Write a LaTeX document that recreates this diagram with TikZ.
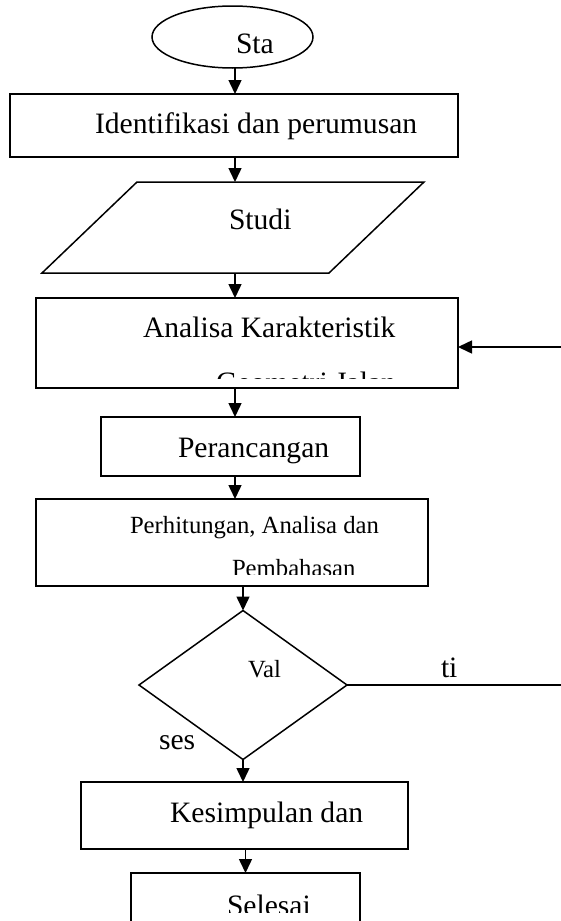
\documentclass[tikz,border=0pt]{standalone}
\usepackage{fontspec}
\setmainfont{Liberation Serif}
\usetikzlibrary{shapes.geometric,arrows.meta}
\newcommand{\hurufbesar}{\fontsize{29.6}{34}\selectfont}
\newcommand{\hurufkecil}{\fontsize{24.7}{29}\selectfont}
\tikzset{
	kotak/.style={draw, line width=1.5pt, rectangle, inner sep=0pt, outer sep=0pt},
	teks/.style={anchor=base west, inner sep=0pt, outer sep=0pt, font=\hurufbesar},
	tekskecil/.style={anchor=base west, inner sep=0pt, outer sep=0pt, font=\hurufkecil},
	panah/.style={line width=1.5pt, -{Triangle[length=14pt,width=13pt]}}
}

\begin{document}
\begin{tikzpicture}[x=1pt,y=-1pt]
		%%%%% START %%%%%
		\useasboundingbox (0,0) rectangle (561,921);
		\clip (0,0) rectangle (561,921);
		\fill[white] (0,0) rectangle (561,921);
		
		% bentuk
		\node[kotak, ellipse, minimum width=161pt, minimum height=62pt] (mulai) at (232.5,37) {};
		\node[kotak, minimum width=448pt, minimum height=63pt] (identifikasi) at (234,125.5) {};
		\node[inner sep=0pt, outer sep=0pt, minimum width=287pt, minimum height=91pt] (studi) at (233,227.5) {};
		\draw[line width=1.5pt] ([xshift=47.5pt]studi.north west) -- ([xshift=47.5pt]studi.north east)
			-- ([xshift=-47.5pt]studi.south east) -- ([xshift=-47.5pt]studi.south west) -- cycle;
		\node[kotak, minimum width=422pt, minimum height=90pt] (analisa) at (247,343) {};
		\node[kotak, minimum width=259pt, minimum height=59pt] (perancangan) at (230.5,446.5) {};
		\node[kotak, minimum width=392pt, minimum height=87pt] (perhitungan) at (232,542.5) {};
		\node[kotak, diamond, minimum width=208pt, minimum height=149pt] (validasi) at (243,685) {};
		\node[kotak, minimum width=327pt, minimum height=67pt] (kesimpulan) at (244.5,815.5) {};
		\node[kotak, minimum width=229pt, minimum height=80pt] (selesai) at (245.5,913) {};
		
		% teks
		\node[teks] (tMulai) at (236,53) {Sta};
		\node[teks] (tIdentifikasi) at (95,133) {Identifikasi dan perumusan};
		\node[teks] (tStudi) at (229,229) {Studi};
		\node[teks] (tAnalisa) at (143,337) {Analisa Karakteristik};
		\begin{scope}
			\clip (40,360) rectangle (455,378);
			\node[teks] (tAnalisaDua) at (216,392) {Geometri Jalan};
		\end{scope}
		\node[teks] (tPerancangan) at (178,457) {Perancangan};
		\node[tekskecil] (tPerhitungan) at (130,533) {Perhitungan, Analisa dan};
		\begin{scope}
			\clip (40,550) rectangle (420,574);
			\node[tekskecil] (tPembahasan) at (232,576) {Pembahasan};
		\end{scope}
		\node[tekskecil] (tValidasi) at (248,677) {Val};
		\node[teks] (tTidak) at (441,677) {ti};
		\node[teks] (tYa) at (159,749) {ses};
		\node[teks] (tKesimpulan) at (170,822) {Kesimpulan dan};
		\begin{scope}
			\clip (140,880) rectangle (350,912);
			\node[teks] (tSelesai) at (227,915) {Selesai};
		\end{scope}
		
		% panah
		\coordinate (poros) at (235,0);
		\coordinate (balik) at (590,347);
		\draw[panah] (mulai.south -| poros) -- (identifikasi.north -| poros);
		\draw[panah] (identifikasi.south -| poros) -- (studi.north -| poros);
		\draw[panah] (studi.south -| poros) -- (analisa.north -| poros);
		\draw[panah] (analisa.south -| poros) -- (perancangan.north -| poros);
		\draw[panah] (perancangan.south -| poros) -- (perhitungan.north -| poros);
		\draw[panah] (perhitungan.south -| validasi.north) -- (validasi.north);
		\draw[panah] (validasi.south) -- (kesimpulan.north -| validasi.south);
		\draw[panah] (kesimpulan.south -| selesai.north) -- (selesai.north);
		\draw[panah] (validasi.east) -| (balik) -- (analisa.east |- balik);
		%%%%% END %%%%%
\end{tikzpicture}
\end{document}
